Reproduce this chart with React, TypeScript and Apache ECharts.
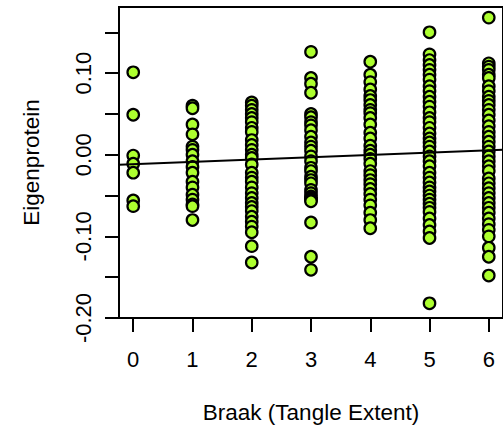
import React, { useEffect, useRef } from "react";
import * as echarts from "echarts";

const braakStages = [0, 1, 2, 3, 4, 5, 6];
const yTicks = [-0.2, -0.15, -0.1, -0.05, 0, 0.05, 0.1, 0.15];
const yLabels = [-0.2, -0.1, 0, 0.1];

const stage0 = [0.101, 0.049, -0.001, -0.011, -0.022, -0.056, -0.063];
const stage1 = [0.06, 0.057, 0.037, 0.025, 0.01, 0.006, 0.0, -0.008, -0.015, -0.022, -0.033, -0.04, -0.049, -0.055, -0.061, -0.063, -0.08];
const stage2 = [0.064, 0.06, 0.055, 0.05, 0.045, 0.04, 0.033, 0.028, 0.018, 0.012, 0.006, 0.0, -0.004, -0.012, -0.022, -0.028, -0.033, -0.04, -0.047, -0.053, -0.059, -0.064, -0.069, -0.076, -0.082, -0.088, -0.095, -0.112, -0.132];
const stage3 = [0.126, 0.094, 0.087, 0.076, 0.05, 0.046, 0.04, 0.036, 0.03, 0.022, 0.015, 0.01, 0.005, -0.002, -0.008, -0.016, -0.02, -0.027, -0.031, -0.035, -0.043, -0.047, -0.051, -0.053, -0.055, -0.057, -0.083, -0.125, -0.141];
const stage4 = [0.114, 0.098, 0.089, 0.08, 0.072, 0.067, 0.061, 0.055, 0.051, 0.045, 0.037, 0.027, 0.02, 0.011, 0.005, 0.0, -0.005, -0.011, -0.02, -0.025, -0.031, -0.036, -0.042, -0.048, -0.055, -0.062, -0.071, -0.08, -0.09];
const stage5 = [0.15, 0.123, 0.116, 0.11, 0.104, 0.098, 0.092, 0.084, 0.078, 0.071, 0.065, 0.059, 0.052, 0.045, 0.04, 0.033, 0.026, 0.02, 0.015, 0.01, 0.004, -0.002, -0.008, -0.014, -0.022, -0.028, -0.034, -0.04, -0.045, -0.05, -0.055, -0.06, -0.065, -0.07, -0.078, -0.086, -0.094, -0.102, -0.182];
const stage6 = [0.168, 0.112, 0.108, 0.104, 0.098, 0.094, 0.084, 0.078, 0.071, 0.066, 0.061, 0.055, 0.049, 0.042, 0.035, 0.028, 0.022, 0.016, 0.01, 0.004, -0.002, -0.008, -0.014, -0.02, -0.029, -0.035, -0.041, -0.047, -0.053, -0.059, -0.065, -0.071, -0.078, -0.085, -0.092, -0.1, -0.114, -0.125, -0.148];

const stageValues = [stage0, stage1, stage2, stage3, stage4, stage5, stage6];

const fitIntercept = -0.0116;
const fitSlope = 0.00286;

const xMin = -0.24;
const xMax = 6.24;
const yMin = -0.2;
const yMax = 0.181;

const FONT = "'Liberation Sans', Arial, Helvetica, sans-serif";

export default function App() {
  const ref = useRef<HTMLDivElement>(null);

  useEffect(() => {
    if (!ref.current) return;
    const chart = echarts.init(ref.current, null, { renderer: "svg" });

    const points: number[][] = [];
    stageValues.forEach((vals, i) => {
      vals.forEach((v) => points.push([braakStages[i], v]));
    });
    const fitLine = [
      [xMin, fitIntercept + fitSlope * xMin],
      [xMax, fitIntercept + fitSlope * xMax],
    ];

    chart.setOption({
      animation: false,
      backgroundColor: "#ffffff",
      textStyle: { fontFamily: FONT },
      grid: {
        left: 119,
        top: 7,
        width: 387,
        height: 311,
        show: true,
        borderColor: "#000",
        borderWidth: 2,
        backgroundColor: "transparent",
      },
      xAxis: {
        type: "value",
        min: xMin,
        max: xMax,
        name: "Braak (Tangle Extent)",
        nameLocation: "middle",
        nameGap: 83,
        nameTextStyle: { fontSize: 22.5, color: "#000", fontFamily: FONT },
        axisLine: { show: true, onZero: false, lineStyle: { color: "#000", width: 2 } },
        axisTick: { show: true, length: 14, customValues: braakStages, lineStyle: { color: "#000", width: 2 } },
        axisLabel: {
          customValues: braakStages,
          margin: 30,
          fontSize: 22,
          color: "#000",
          fontFamily: FONT,
          formatter: (v: number) => String(v),
        },
        splitLine: { show: false },
      },
      yAxis: {
        type: "value",
        min: yMin,
        max: yMax,
        name: "Eigenprotein",
        nameLocation: "middle",
        nameGap: 76,
        nameRotate: 90,
        nameTextStyle: { fontSize: 22.5, color: "#000", fontFamily: FONT },
        axisLine: { show: true, onZero: false, lineStyle: { color: "#000", width: 2 } },
        axisTick: { show: true, length: 14, customValues: yTicks, lineStyle: { color: "#000", width: 2 } },
        axisLabel: {
          customValues: yLabels,
          rotate: 90,
          margin: 25,
          fontSize: 22,
          color: "#000",
          fontFamily: FONT,
          formatter: (v: number) => v.toFixed(2),
        },
        splitLine: { show: false },
      },
      series: [
        {
          type: "scatter",
          data: points,
          symbol: "circle",
          symbolSize: 11.5,
          itemStyle: { color: "#ADFF2F", borderColor: "#000", borderWidth: 2.2, opacity: 1 },
          z: 2,
        },
        {
          type: "line",
          data: fitLine,
          symbol: "none",
          lineStyle: { color: "#000", width: 2 },
          z: 3,
        },
      ],
    });

    return () => chart.dispose();
  }, []);

  return (
    <div
      ref={ref}
      style={{ position: "fixed", left: 0, top: 0, width: 503, height: 433, background: "#fff" }}
    />
  );
}
